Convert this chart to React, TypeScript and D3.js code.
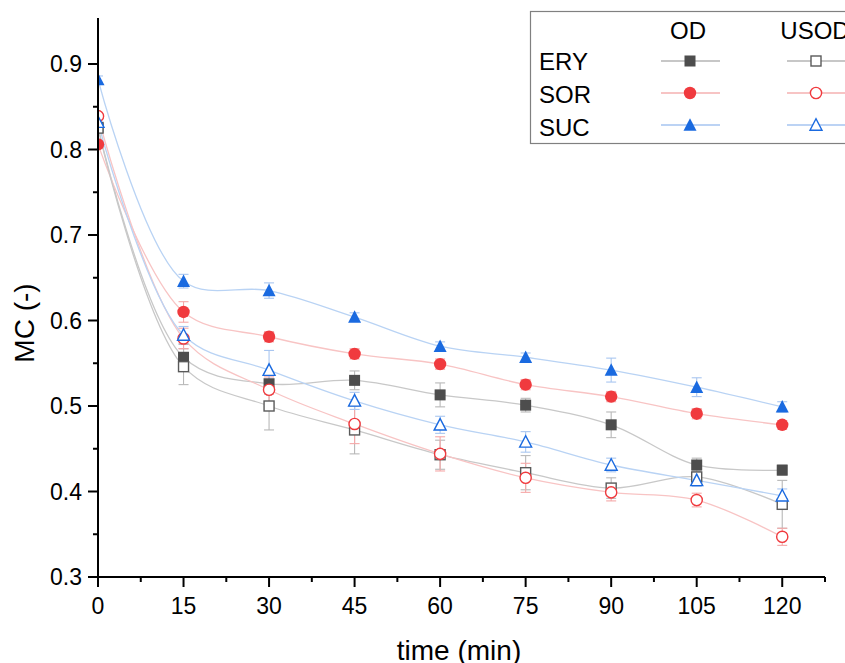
import React from "react";
import * as d3 from "d3";

const times = [0, 15, 30, 45, 60, 75, 90, 105, 120];

const eryOD = [0.826, 0.557, 0.526, 0.53, 0.513, 0.501, 0.478, 0.431, 0.425];
const eryODErr = [0.004, 0.015, 0.012, 0.011, 0.014, 0.008, 0.015, 0.008, 0.006];
const sorOD = [0.806, 0.61, 0.581, 0.561, 0.549, 0.525, 0.511, 0.491, 0.478];
const sorODErr = [0.004, 0.012, 0.006, 0.006, 0.006, 0.006, 0.006, 0.006, 0.005];
const sucOD = [0.882, 0.646, 0.635, 0.604, 0.57, 0.557, 0.542, 0.522, 0.499];
const sucODErr = [0.004, 0.008, 0.009, 0.005, 0.005, 0.005, 0.014, 0.011, 0.006];

const eryUS = [0.825, 0.546, 0.5, 0.472, 0.443, 0.422, 0.404, 0.417, 0.385];
const eryUSErr = [0.004, 0.021, 0.028, 0.028, 0.017, 0.02, 0.012, 0.008, 0.028];
const sorUS = [0.839, 0.579, 0.519, 0.479, 0.444, 0.416, 0.399, 0.39, 0.347];
const sorUSErr = [0.004, 0.012, 0.015, 0.023, 0.02, 0.017, 0.01, 0.008, 0.01];
const sucUS = [0.832, 0.583, 0.542, 0.506, 0.478, 0.458, 0.431, 0.413, 0.395];
const sucUSErr = [0.004, 0.01, 0.023, 0.01, 0.01, 0.012, 0.008, 0.007, 0.008];

const xTicks = [0, 15, 30, 45, 60, 75, 90, 105, 120];
const yTicks = [0.3, 0.4, 0.5, 0.6, 0.7, 0.8, 0.9];

const seriesGroups = ["ERY", "SOR", "SUC"];
const groupNames = ["OD", "USOD"];

type Shape = "square" | "circle" | "triangle";

const FONT = "'Liberation Sans', Arial, sans-serif";

interface Series {
  name: string;
  values: number[];
  errs: number[];
  shape: Shape;
  filled: boolean;
  color: string;
  line: string;
  err: string;
  legLine: string;
}

const series: Series[] = [
  { name: "ERY OD", values: eryOD, errs: eryODErr, shape: "square", filled: true, color: "#4d4d4d", line: "#c8c8c8", err: "#b8b8b8", legLine: "#909090" },
  { name: "SOR OD", values: sorOD, errs: sorODErr, shape: "circle", filled: true, color: "#f03a3e", line: "#f8c4c4", err: "#f5a8a8", legLine: "#f08a8a" },
  { name: "SUC OD", values: sucOD, errs: sucODErr, shape: "triangle", filled: true, color: "#1a6ae0", line: "#b9d3f4", err: "#a9c6f0", legLine: "#7aa8ea" },
  { name: "ERY USOD", values: eryUS, errs: eryUSErr, shape: "square", filled: false, color: "#5a5a5a", line: "#c8c8c8", err: "#b8b8b8", legLine: "#909090" },
  { name: "SOR USOD", values: sorUS, errs: sorUSErr, shape: "circle", filled: false, color: "#f03a3e", line: "#f8c4c4", err: "#f5a8a8", legLine: "#f08a8a" },
  { name: "SUC USOD", values: sucUS, errs: sucUSErr, shape: "triangle", filled: false, color: "#1a6ae0", line: "#b9d3f4", err: "#a9c6f0", legLine: "#7aa8ea" },
];

function Marker({ shape, filled, color, x, y }: { shape: Shape; filled: boolean; color: string; x: number; y: number }) {
  const fill = filled ? color : "#ffffff";
  const sw = filled ? 0 : 1.4;
  if (shape === "square") {
    const s = filled ? 11 : 10;
    return <rect x={x - s / 2} y={y - s / 2} width={s} height={s} fill={fill} stroke={color} strokeWidth={sw} />;
  }
  if (shape === "circle") {
    const r = filled ? 6.2 : 5.6;
    return <circle cx={x} cy={y} r={r} fill={fill} stroke={color} strokeWidth={sw} />;
  }
  const w = filled ? 13 : 12;
  const h = filled ? 11.5 : 10.5;
  const pts = `${x - w / 2},${y + h / 2} ${x + w / 2},${y + h / 2} ${x},${y - h / 2 - 1}`;
  return <polygon points={pts} fill={fill} stroke={color} strokeWidth={sw} strokeLinejoin="miter" />;
}

export default function App() {
  const W = 845;
  const H = 663;
  const left = 98;
  const right = 825;
  const top = 18;
  const bottom = 577;

  const x = d3.scaleLinear().domain([0, 127.5]).range([left, right]);
  const y = d3.scaleLinear().domain([0.3, 0.3 + (bottom - top) / 855]).range([bottom, top]);

  const xMinor = d3.range(7.5, 128, 15);
  const yMinor = d3.range(0.35, 0.95, 0.1);

  const line = d3
    .line<number>()
    .x((_, i) => x(times[i]))
    .y((v) => y(v))
    .curve(d3.curveCatmullRom.alpha(0.5));

  return (
    <svg width={W} height={H} style={{ position: "absolute", left: 0, top: 0, background: "#fff" }} fontFamily={FONT}>
      <defs>
        <clipPath id="plot">
          <rect x={left} y={0} width={right - left + 20} height={bottom} />
        </clipPath>
      </defs>
      <g clipPath="url(#plot)">
        {series.map((s) => (
          <path key={s.name + "l"} d={line(s.values) || ""} fill="none" stroke={s.line} strokeWidth={1.3} />
        ))}
        {series.map((s) => (
          <g key={s.name + "e"} stroke={s.err} strokeWidth={1.1}>
            {s.values.map((v, i) => {
              const cx = x(times[i]);
              const y1 = y(v - s.errs[i]);
              const y2 = y(v + s.errs[i]);
              return (
                <g key={i}>
                  <line x1={cx} x2={cx} y1={y1} y2={y2} />
                  <line x1={cx - 5} x2={cx + 5} y1={y1} y2={y1} />
                  <line x1={cx - 5} x2={cx + 5} y1={y2} y2={y2} />
                </g>
              );
            })}
          </g>
        ))}
        {series.map((s) => (
          <g key={s.name + "m"}>
            {s.values.map((v, i) => (
              <Marker key={i} shape={s.shape} filled={s.filled} color={s.color} x={x(times[i])} y={y(v)} />
            ))}
          </g>
        ))}
      </g>

      {/* axes */}
      <g stroke="#000" strokeWidth={2}>
        <line x1={left} x2={left} y1={top} y2={bottom + 1} />
        <line x1={left - 1} x2={right} y1={bottom} y2={bottom} />
        {yTicks.map((t) => (
          <line key={"yt" + t} x1={left - 10} x2={left} y1={y(t)} y2={y(t)} />
        ))}
        {yMinor.map((t) => (
          <line key={"ym" + t} x1={left - 5} x2={left} y1={y(t)} y2={y(t)} />
        ))}
        {xTicks.map((t) => (
          <line key={"xt" + t} x1={x(t)} x2={x(t)} y1={bottom} y2={bottom + 10} />
        ))}
        {xMinor.map((t) => (
          <line key={"xm" + t} x1={x(t)} x2={x(t)} y1={bottom} y2={bottom + 5} />
        ))}
      </g>
      <g fontSize={23} fill="#000">
        {yTicks.map((t) => (
          <text key={"yl" + t} x={left - 16} y={y(t) + 8} textAnchor="end">
            {t.toFixed(1)}
          </text>
        ))}
        {xTicks.map((t) => (
          <text key={"xl" + t} x={x(t)} y={bottom + 37} textAnchor="middle">
            {t}
          </text>
        ))}
      </g>
      <text x={459} y={660} fontSize={28} textAnchor="middle">
        time (min)
      </text>
      <text transform={`translate(34,${323}) rotate(-90)`} fontSize={28} textAnchor="middle">
        MC (-)
      </text>

      {/* legend */}
      <rect x={530.5} y={11.5} width={330} height={132} fill="#fff" stroke="#808080" strokeWidth={1.2} />
      <g fontSize={24} fill="#000">
        <text x={688} y={39} textAnchor="middle">{groupNames[0]}</text>
        <text x={815} y={39} textAnchor="middle">{groupNames[1]}</text>
        {seriesGroups.map((g, i) => (
          <text key={g} x={539} y={70 + i * 33}>{g}</text>
        ))}
      </g>
      {series.map((s, i) => {
        const row = i % 3;
        const col = Math.floor(i / 3);
        const cx = col === 0 ? 690 : 816;
        const cy = 61 + row * 32;
        return (
          <g key={s.name + "leg"}>
            <line x1={cx - 29} x2={cx + 30} y1={cy} y2={cy} stroke={s.legLine} strokeWidth={1.2} />
            <Marker shape={s.shape} filled={s.filled} color={s.color} x={cx} y={cy} />
          </g>
        );
      })}
    </svg>
  );
}
